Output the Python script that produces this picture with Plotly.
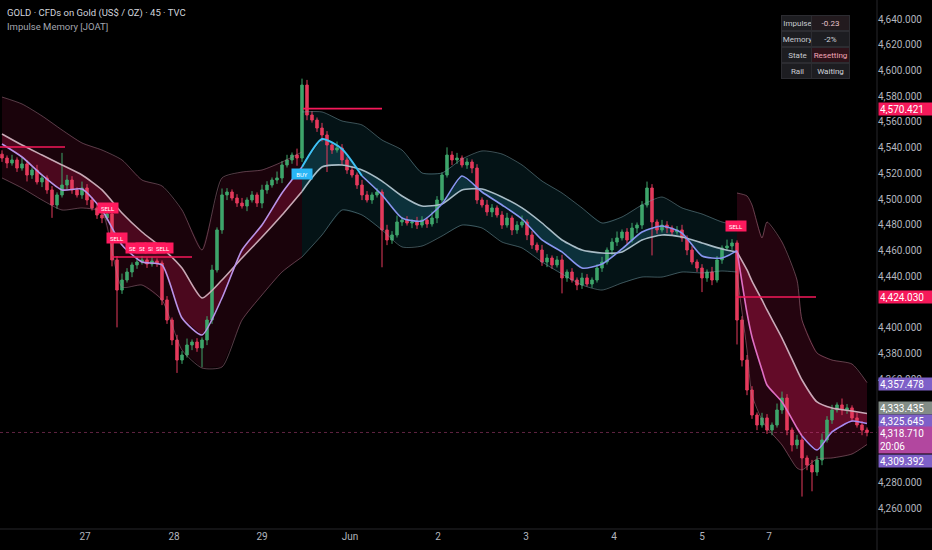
import plotly.graph_objects as go

# ---- values (one candle = one 45 min bar, x = bar number) ----
first_open = 4535.0
closes = [
    4532.0, 4528.1, 4530.5, 4524.2, 4527.4, 4518.8, 4522.7, 4513.4, 4516.5, 4507.2,
    4495.5, 4503.3, 4511.0, 4514.9, 4507.2, 4503.3, 4508.7, 4499.4, 4493.2, 4487.7,
    4485.4, 4488.5, 4452.8, 4429.4, 4437.2, 4443.4, 4448.9, 4451.2, 4452.8, 4449.6,
    4452.0, 4450.4, 4421.7, 4406.1, 4390.6, 4375.0, 4378.9, 4386.7, 4389.0, 4384.4,
    4390.6, 4406.1, 4445.0, 4476.1, 4503.3, 4505.6, 4500.9, 4497.0, 4494.7, 4499.4,
    4503.3, 4497.0, 4507.2, 4511.0, 4514.9, 4516.5, 4526.6, 4530.5, 4534.3, 4532.0,
    4588.7, 4565.4, 4561.5, 4555.3, 4549.9, 4542.1, 4538.2, 4539.8, 4530.5, 4522.7,
    4518.8, 4511.0, 4503.3, 4499.4, 4503.3, 4505.6, 4476.1, 4468.3, 4472.2, 4482.3,
    4483.8, 4481.5, 4482.3, 4479.9, 4483.8, 4480.7, 4485.4, 4499.4, 4518.8, 4534.3,
    4530.5, 4532.0, 4526.6, 4528.9, 4524.2, 4499.4, 4495.5, 4490.1, 4493.2, 4487.7,
    4479.9, 4485.4, 4476.1, 4479.9, 4482.3, 4472.2, 4464.4, 4460.5, 4451.2, 4454.3,
    4448.9, 4452.8, 4438.8, 4443.4, 4437.2, 4433.3, 4438.8, 4434.1, 4437.2, 4446.5,
    4451.2, 4460.5, 4466.7, 4469.9, 4474.5, 4468.3, 4477.6, 4479.9, 4495.5, 4508.7,
    4482.3, 4476.1, 4479.9, 4477.6, 4474.5, 4476.1, 4469.9, 4460.5, 4451.2, 4446.5,
    4438.8, 4443.4, 4437.2, 4452.8, 4462.1, 4463.6, 4466.0, 4406.1, 4375.0, 4351.7,
    4332.3, 4324.5, 4330.0, 4320.6, 4324.5, 4336.2, 4345.5, 4320.6, 4309.0, 4312.9,
    4298.9, 4293.4, 4288.0, 4297.3, 4312.9, 4328.4, 4336.2, 4340.1, 4336.2, 4337.8,
    4330.0, 4324.5, 4320.6, 4318.71,
]
wick_up = [
    3, 2, 4, 2, 5, 3, 2, 4, 3, 2,
    3, 2, 25, 4, 3, 2, 5, 3, 2, 3,
    2, 4, 2, 3, 5, 3, 2, 4, 3, 2,
    3, 2, 2, 3, 2, 4, 3, 5, 2, 3,
    2, 3, 4, 2, 5, 3, 2, 3, 4, 2,
    3, 2, 4, 3, 2, 5, 3, 4, 2, 5,
    5, 4, 3, 2, 4, 3, 2, 5, 3, 2,
    3, 2, 4, 3, 2, 3, 2, 4, 3, 5,
    2, 3, 2, 4, 3, 2, 5, 3, 2, 6,
    3, 4, 2, 3, 2, 3, 2, 4, 3, 2,
    3, 4, 2, 3, 5, 2, 3, 2, 4, 3,
    2, 3, 4, 2, 3, 2, 4, 3, 2, 3,
    4, 2, 3, 5, 2, 3, 4, 2, 3, 5,
    3, 2, 4, 3, 2, 3, 4, 2, 3, 2,
    3, 2, 4, 3, 2, 5, 3, 2, 3, 4,
    3, 2, 4, 3, 2, 5, 5, 3, 2, 4,
    3, 2, 4, 3, 5, 3, 4, 2, 5, 3,
    2, 4, 3, 2,
]
wick_dn = [
    3, 4, 2, 3, 2, 5, 3, 2, 4, 3,
    10, 3, 2, 4, 3, 2, 3, 4, 2, 3,
    4, 2, 5, 29, 3, 2, 4, 3, 2, 3,
    2, 3, 4, 3, 4, 10, 3, 2, 4, 3,
    15, 4, 3, 2, 3, 4, 2, 3, 2, 4,
    2, 3, 4, 3, 2, 3, 4, 2, 3, 6,
    3, 4, 2, 3, 5, 21, 3, 2, 4, 3,
    2, 3, 4, 2, 3, 2, 29, 4, 3, 2,
    3, 2, 4, 3, 2, 3, 2, 4, 3, 2,
    4, 3, 2, 3, 4, 3, 2, 3, 4, 2,
    3, 2, 4, 3, 2, 4, 3, 2, 3, 4,
    3, 2, 12, 3, 2, 4, 3, 2, 3, 2,
    3, 2, 4, 3, 2, 3, 2, 4, 3, 2,
    26, 3, 2, 4, 3, 2, 3, 4, 2, 3,
    11, 3, 4, 2, 3, 2, 3, 19, 5, 4,
    3, 4, 2, 3, 4, 2, 3, 4, 5, 3,
    30, 4, 15, 3, 4, 2, 3, 2, 4, 3,
    3, 2, 4, 3,
]

# indicator bands, read at a few bars per regime (bear -> bull -> bear)
seg1_idx = [0, 4, 8, 12, 16, 20, 24, 28, 32, 36, 40, 44, 48, 52, 56, 60]
seg1_upper = [4579.4, 4574.0, 4564.7, 4553.8, 4543.7, 4538.2, 4530.5, 4514.9,
              4510.3, 4491.6, 4460.5, 4516.5, 4521.1, 4522.7, 4528.9, 4536.7]
seg1_lower = [4516.5, 4508.7, 4499.4, 4491.6, 4493.2, 4490.1, 4431.8, 4433.3,
              4421.7, 4382.8, 4368.8, 4369.6, 4406.1, 4425.6, 4443.4, 4455.1]
seg1_slow = [4550.7, 4542.1, 4534.3, 4526.6, 4518.8, 4507.2, 4489.3, 4474.5,
             4462.1, 4446.5, 4423.2, 4437.2, 4454.3, 4470.6, 4487.7, 4506.0]
seg1_fast = [4542.9, 4532.8, 4518.8, 4507.2, 4507.9, 4491.6, 4464.4, 4451.2,
             4448.9, 4407.7, 4394.5, 4423.2, 4460.5, 4479.9, 4504.8, 4525.0]

seg2_idx = [60, 64, 68, 72, 76, 80, 84, 88, 92, 96, 100, 104, 108, 112, 116,
            120, 124, 128, 132, 136, 140, 144, 147]
seg2_upper = [4567.8, 4567.8, 4560.8, 4557.7, 4546.0, 4538.2, 4520.4, 4520.4,
              4531.2, 4537.5, 4535.1, 4526.6, 4514.1, 4504.8, 4493.2, 4481.5,
              4486.2, 4495.5, 4501.7, 4493.2, 4488.5, 4482.3, 4479.9]
seg2_lower = [4455.1, 4472.2, 4491.6, 4487.7, 4476.1, 4462.9, 4463.6, 4471.4,
              4479.9, 4477.6, 4466.7, 4462.1, 4451.2, 4441.9, 4433.3, 4429.4,
              4434.9, 4439.5, 4439.5, 4443.4, 4442.7, 4444.2, 4443.4]
seg2_slow = [4506.0, 4525.0, 4526.6, 4522.7, 4514.1, 4502.5, 4494.7, 4496.3,
             4507.2, 4507.9, 4501.7, 4493.2, 4481.5, 4468.3, 4460.5, 4458.2,
             4459.0, 4468.3, 4472.2, 4470.6, 4466.0, 4461.3, 4459.0]
seg2_fast = [4525.0, 4546.8, 4539.0, 4518.0, 4503.3, 4485.4, 4483.1, 4496.3,
             4518.0, 4505.6, 4495.5, 4484.6, 4468.3, 4459.0, 4446.5, 4449.6,
             4461.3, 4474.5, 4479.2, 4473.7, 4455.9, 4454.3, 4460.0]

seg3_idx = [147, 149, 150, 152, 153, 156, 159, 160, 163, 166, 170, 173]
seg3_upper = [4504.8, 4502.5, 4495.5, 4469.9, 4482.3, 4466.7, 4437.2, 4406.1,
              4380.5, 4375.0, 4371.9, 4357.478]
seg3_lower = [4441.1, 4382.8, 4347.8, 4328.4, 4322.2, 4309.0, 4291.1, 4289.6,
              4298.1, 4298.9, 4302.0, 4309.392]
seg3_slow = [4459.0, 4445.0, 4436.4, 4421.7, 4413.9, 4392.1, 4367.3, 4359.5,
             4342.4, 4337.7, 4335.4, 4333.435]
seg3_fast = [4460.0, 4411.6, 4392.9, 4367.3, 4355.6, 4342.4, 4322.2, 4316.0,
             4305.1, 4319.1, 4327.6, 4325.645]

# rails and signal labels
rail_from = [-0.4, 22.0, 60.2, 146.8]
rail_to = [12.6, 38.0, 76.0, 162.8]
rail_level = [4540.6, 4455.1, 4570.421, 4424.03]
signal_idx = [21.2, 23.0, 26.8, 28.8, 30.6, 32.2, 60.0, 146.8]
signal_price = [4493.2, 4469.9, 4462.1, 4462.1, 4462.1, 4462.1, 4519.6, 4479.2]
signal_text = ["SELL", "SELL", "SELL", "SELL", "SELL", "SELL", "BUY", "SELL"]

# day labels on the time axis
day_pos = [16.6, 34.4, 52.0, 69.6, 87.2, 104.8, 122.4, 140.0, 153.4]
day_text = ["27", "28", "29", "Jun", "2", "3", "4", "5", "7"]
# price ticks that are not hidden behind the value tags
price_ticks = [4260, 4280, 4360, 4380, 4400, 4440, 4460, 4480, 4500, 4520,
               4540, 4560, 4580, 4600, 4620, 4640]

# status table
table_keys = ["Impulse", "Memory", "State", "Rail"]
table_vals = ["-0.23", "-2%", "Resetting", "Waiting"]

# last value tags on the price scale (value shown, where it is drawn)
tag_text = ["4,570.421", "4,424.030", "4,357.478", "4,333.435", "4,325.645",
            "4,318.710<br>20:06", "4,309.392"]
tag_pos = [4570.421, 4424.03, 4356.0, 4338.1, 4328.0, 4312.9, 4296.9]

PLOT_W = 877
PLOT_H = 529
X_RANGE = [-0.4, 175.0]
Y_RANGE = [4243.7, 4654.8]

GREEN = "#3ea56b"
RED = "#e43a5c"
PINK = "#f5195a"
PURPLE = "#7e60c8"


def px_x(px):
    """pixel column -> paper x"""
    return px / PLOT_W


def px_y(py):
    """pixel row -> paper y"""
    return 1 - py / PLOT_H


opens = [first_open] + closes[:-1]
highs = [max(o, c) + w for o, c, w in zip(opens, closes, wick_up)]
lows = [min(o, c) - w for o, c, w in zip(opens, closes, wick_dn)]

fig = go.Figure()


def add_fill(idx, upper, lower, slow, fast, outer, inner):
    fig.add_trace(go.Scatter(x=idx, y=lower, mode="lines", line=dict(width=0),
                             hoverinfo="skip"))
    fig.add_trace(go.Scatter(x=idx, y=upper, mode="lines", line=dict(width=0),
                             fill="tonexty", fillcolor=outer, hoverinfo="skip"))
    fig.add_trace(go.Scatter(x=idx, y=slow, mode="lines", line=dict(width=0),
                             hoverinfo="skip"))
    fig.add_trace(go.Scatter(x=idx, y=fast, mode="lines", line=dict(width=0),
                             fill="tonexty", fillcolor=inner, hoverinfo="skip"))


def add_line(idx, vals, color, width):
    fig.add_trace(go.Scatter(x=idx, y=vals, mode="lines",
                             line=dict(color=color, width=width,
                                       shape="spline", smoothing=0.6),
                             xaxis="x3", yaxis="y3", hoverinfo="skip"))


add_fill(seg1_idx, seg1_upper, seg1_lower, seg1_slow, seg1_fast,
         "rgba(120,12,50,0.22)", "rgba(180,20,70,0.32)")
add_fill(seg2_idx, seg2_upper, seg2_lower, seg2_slow, seg2_fast,
         "rgba(30,130,150,0.15)", "rgba(40,160,190,0.22)")
add_fill(seg3_idx, seg3_upper, seg3_lower, seg3_slow, seg3_fast,
         "rgba(130,14,55,0.28)", "rgba(195,22,78,0.40)")

fig.add_trace(go.Candlestick(
    x=list(range(len(closes))), open=opens, high=highs, low=lows, close=closes,
    increasing=dict(line=dict(color=GREEN, width=1), fillcolor=GREEN),
    decreasing=dict(line=dict(color=RED, width=1), fillcolor=RED),
    whiskerwidth=0, xaxis="x2", yaxis="y2", hoverinfo="skip"))

# outer bands
add_line(seg1_idx, seg1_upper, "rgba(170,120,140,0.5)", 1)
add_line(seg1_idx, seg1_lower, "rgba(170,120,140,0.5)", 1)
add_line(seg2_idx, seg2_upper, "rgba(120,160,170,0.5)", 1)
add_line(seg2_idx, seg2_lower, "rgba(120,160,170,0.5)", 1)
add_line(seg3_idx, seg3_upper, "rgba(175,115,135,0.55)", 1)
add_line(seg3_idx, seg3_lower, "rgba(175,115,135,0.55)", 1)
# slow memory line
add_line(seg1_idx, seg1_slow, "#c7a9b5", 1.6)
add_line(seg2_idx, seg2_slow, "#a9bcc6", 1.6)
add_line(seg3_idx, seg3_slow, "#c9aab8", 1.6)
# fast impulse line
add_line(seg1_idx, seg1_fast, "#b993e8", 1.6)
add_line(seg2_idx[:4], seg2_fast[:4], "#3fc1f5", 2)
add_line(seg2_idx[3:], seg2_fast[3:], "#8896f0", 1.6)
add_line(seg3_idx[:8], seg3_fast[:8], "#e06fc4", 1.6)
add_line(seg3_idx[7:], seg3_fast[7:], "#a68af0", 1.6)

shapes = []
for x0, x1, lvl in zip(rail_from, rail_to, rail_level):
    shapes.append(dict(type="line", xref="x", yref="y", x0=x0, x1=x1,
                       y0=lvl, y1=lvl, line=dict(color=PINK, width=1.6),
                       layer="above"))
shapes.append(dict(type="line", xref="x", yref="y", x0=X_RANGE[0],
                   x1=X_RANGE[1], y0=closes[-1], y1=closes[-1],
                   line=dict(color="rgba(190,70,130,0.5)", width=1,
                             dash="dot"), layer="above"))
# pane borders
shapes.append(dict(type="line", xref="paper", yref="paper", x0=0,
                   x1=px_x(932), y0=0, y1=0,
                   line=dict(color="#26262b", width=1)))
shapes.append(dict(type="line", xref="paper", yref="paper", x0=1, x1=1,
                   y0=px_y(550), y1=1, line=dict(color="#26262b", width=1)))

annotations = [
    dict(text="GOLD · CFDs on Gold (US$ / OZ) · 45 · TVC", x=px_x(5),
         y=px_y(13), xref="paper", yref="paper", xanchor="left",
         yanchor="middle", showarrow=False,
         font=dict(color="#d1d4dc", size=9.5)),
    dict(text="Impulse Memory [JOAT]", x=px_x(5), y=px_y(26), xref="paper",
         yref="paper", xanchor="left", yanchor="middle", showarrow=False,
         font=dict(color="#a3a6af", size=9.5)),
]

for sx, sy, st in zip(signal_idx, signal_price, signal_text):
    annotations.append(dict(
        text=st, x=sx, y=sy, xref="x", yref="y", showarrow=False,
        font=dict(color="white", size=6),
        bgcolor="#29b6f6" if st == "BUY" else "#ff1a5e",
        width=18, height=8, borderpad=1))

# status table
row_mid = [15.5, 31, 47, 63]
val_bg = ["#221a1e", "#1d1d21", "#2d1219", "#1d1d21"]
val_col = ["#e6c3cc", "#d1d4dc", "#f2a6b8", "#d1d4dc"]
for k, v, ym, bg, fc in zip(table_keys, table_vals, row_mid, val_bg, val_col):
    annotations.append(dict(
        text=k, x=px_x(813.5), y=px_y(ym), xref="paper", yref="paper",
        showarrow=False, font=dict(color="#c8cad0", size=8),
        bgcolor="#1d1d21", bordercolor="#2c2c31", borderwidth=1,
        width=31, height=14, borderpad=0))
    annotations.append(dict(
        text=v, x=px_x(849.5), y=px_y(ym), xref="paper", yref="paper",
        showarrow=False, font=dict(color=fc, size=8),
        bgcolor=bg, bordercolor="#2c2c31", borderwidth=1,
        width=37, height=14, borderpad=0))

tag_bg = [PINK, PINK, PURPLE, "#838d87", PURPLE, "#b2479f", PURPLE]
for t, p, bg in zip(tag_text, tag_pos, tag_bg):
    annotations.append(dict(
        text=t, x=1, y=p, xref="paper", yref="y", xanchor="left",
        yanchor="middle", xshift=1, showarrow=False,
        font=dict(color="white", size=10), bgcolor=bg, align="left",
        width=51, height=24 if "<br>" in t else 10, borderpad=1))

axis_font = dict(color="#b2b5be", size=10, family="Roboto")
fig.update_layout(
    width=932, height=550,
    paper_bgcolor="#000000", plot_bgcolor="#000000",
    margin=dict(l=0, r=55, t=0, b=21),
    showlegend=False,
    font=dict(family="Roboto"),
    xaxis=dict(range=X_RANGE, showgrid=False, zeroline=False,
               tickvals=day_pos, ticktext=day_text, ticks="",
               tickfont=axis_font, rangeslider=dict(visible=False)),
    yaxis=dict(range=Y_RANGE, side="right", showgrid=False, zeroline=False,
               tickvals=price_ticks, tickformat=",.3f", ticks="",
               tickfont=axis_font),
    xaxis2=dict(range=X_RANGE, overlaying="x", visible=False,
                rangeslider=dict(visible=False)),
    yaxis2=dict(range=Y_RANGE, overlaying="y", visible=False),
    xaxis3=dict(range=X_RANGE, overlaying="x", visible=False),
    yaxis3=dict(range=Y_RANGE, overlaying="y", visible=False),
    shapes=shapes,
    annotations=annotations,
)

fig.write_html("out.html", config={"displayModeBar": False},
               post_script="document.body.style.margin='0';"
                           "document.body.style.background='#000';")
